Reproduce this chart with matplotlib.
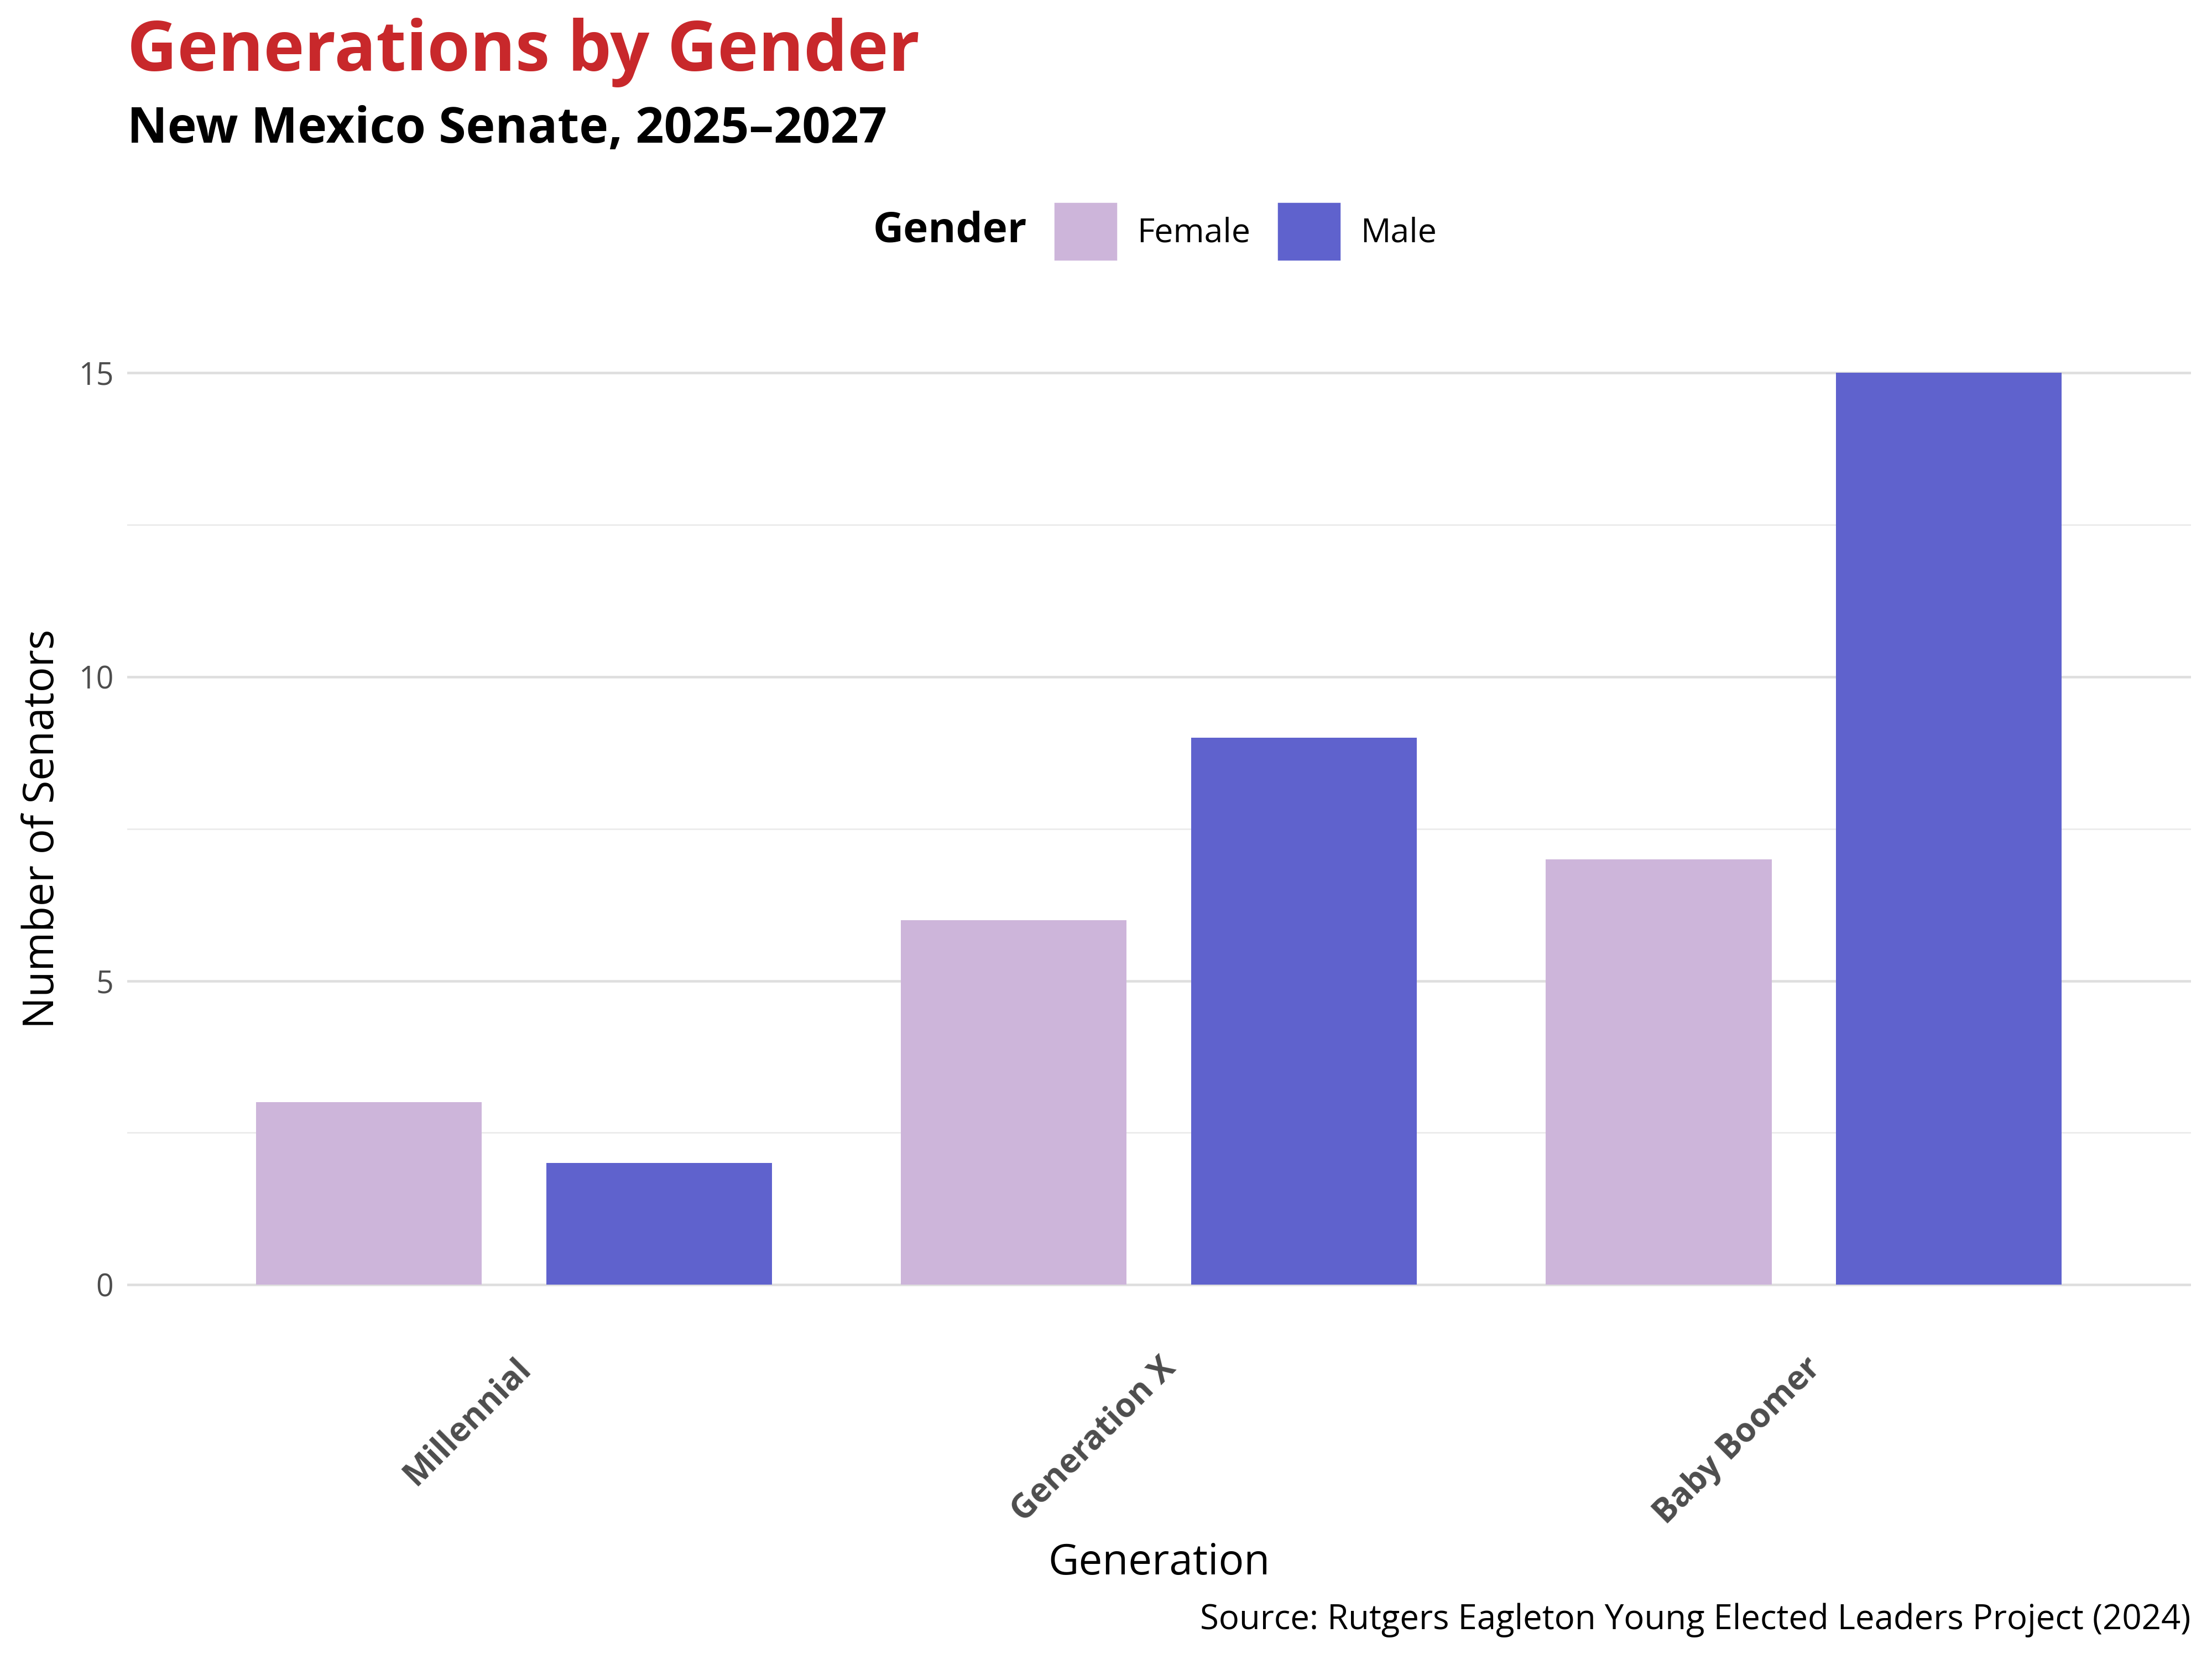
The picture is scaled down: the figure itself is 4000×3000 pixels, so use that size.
import matplotlib.pyplot as plt
import matplotlib.patches as mpatches
import numpy as np

plt.rcParams['font.family'] = ['Open Sans', 'Noto Sans', 'DejaVu Sans']

generations = ["Millennial", "Generation X", "Baby Boomer"]
female = [3, 6, 7]
male = [2, 9, 15]
genders = ["Female", "Male"]
colors = {"Female": "#CDB5DA", "Male": "#5F62CD"}

fig = plt.figure(figsize=(16, 12), dpi=250)
ax = fig.add_axes([0.0574, 0.1981, 0.9330, 0.6046])

x = np.arange(1, len(generations) + 1)
ax.bar(x - 0.225, female, width=0.35, color=colors["Female"], zorder=2)
ax.bar(x + 0.225, male, width=0.35, color=colors["Male"], zorder=2)

ax.set_xlim(0.4, 3.6)
ax.set_ylim(-0.75, 15.75)
ax.set_yticks([0, 5, 10, 15])
ax.set_yticks([2.5, 7.5, 12.5], minor=True)
ax.grid(axis='y', which='major', color='#dedede', linewidth=1.3, zorder=0)
ax.grid(axis='y', which='minor', color='#ebebeb', linewidth=0.8, zorder=0)
ax.set_axisbelow(True)
for s in ax.spines.values():
    s.set_visible(False)
ax.tick_params(axis='both', which='both', length=0)
ax.tick_params(axis='y', labelsize=16, labelcolor='#4d4d4d', pad=7)

ax.set_xticks(x)
ax.set_xticklabels(generations, rotation=45, ha='right', va='top',
                   rotation_mode='anchor', fontsize=17.3, fontweight='bold',
                   color='#4d4d4d')
ax.tick_params(axis='x', pad=11)

# titles
fig.text(0.0574, 0.9575, "Generations by Gender", fontsize=36, fontweight='bold',
         color='#C8282B', ha='left', va='baseline')
fig.text(0.0574, 0.9141, "New Mexico Senate, 2025\u20132027", fontsize=25.8,
         fontweight='bold', color='black', ha='left', va='baseline')

# legend
handles = [mpatches.Patch(color=colors[g]) for g in genders]
fig.legend(handles, genders, loc='center left', bbox_to_anchor=(0.477, 0.8605),
           ncol=2, frameon=False, fontsize=17.5, handlelength=1.81,
           handleheight=2.2, handletextpad=0.63, columnspacing=0.84,
           borderpad=0, borderaxespad=0)
fig.text(0.4643, 0.8605, "Gender", fontsize=22, fontweight='bold',
         ha='right', va='center')

# axis titles and caption
fig.text(0.0191, 0.5004, "Number of Senators", fontsize=22, rotation=90,
         ha='center', va='center')
fig.text(0.5239, 0.051, "Generation", fontsize=22, ha='center', va='baseline')
fig.text(0.9904, 0.0179, "Source: Rutgers Eagleton Young Elected Leaders Project (2024)",
         fontsize=17.8, ha='right', va='baseline')

fig.savefig("out.png", dpi=250)
